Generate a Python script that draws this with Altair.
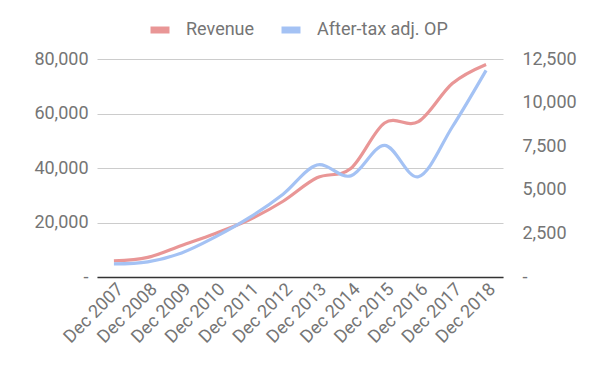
import altair as alt
import pandas as pd

years = ["Dec 2007", "Dec 2008", "Dec 2009", "Dec 2010", "Dec 2011", "Dec 2012",
         "Dec 2013", "Dec 2014", "Dec 2015", "Dec 2016", "Dec 2017", "Dec 2018"]
revenue = [5900, 7200, 11600, 16000, 21000, 27800, 36400, 39800, 56500, 57000, 71000, 78000]
after_tax_op = [750, 870, 1380, 2300, 3400, 4750, 6420, 5800, 7550, 5750, 8600, 11850]
series = ["Revenue", "After-tax adj. OP"]
colors = ["#E99696", "#A4C2F4"]

left_ticks = [0, 20000, 40000, 60000, 80000]
right_ticks = [0, 2500, 5000, 7500, 10000, 12500]

df = pd.DataFrame({"year": years, "revenue": revenue, "op": after_tax_op})

TEXT = "#757575"
FS = 18

x = alt.X("year:N", sort=years, scale=alt.Scale(type="point", padding=0.5),
          axis=alt.Axis(title=None, labelAngle=315, labelFontSize=FS, labelColor=TEXT,
                        domainColor="#333333", domainWidth=1.5, ticks=False, grid=False,
                        labelPadding=3))

color_scale = alt.Scale(domain=series, range=colors)
legend = alt.Legend(title=None, orient="none", legendX=50, legendY=-42, direction="horizontal",
                    symbolType="stroke", symbolStrokeWidth=7, symbolSize=361,
                    labelFontSize=FS, labelColor=TEXT, columnPadding=12, labelOffset=13)

label_expr = "datum.value == 0 ? '-' : format(datum.value, ',')"

base = alt.Chart(df)

rev = base.transform_calculate(series="'Revenue'").mark_line(
    interpolate="cardinal", strokeWidth=3.2).encode(
    x=x,
    y=alt.Y("revenue:Q", scale=alt.Scale(domain=[0, 80000], nice=False),
            axis=alt.Axis(title=None, values=left_ticks, labelExpr=label_expr,
                          labelFontSize=FS, labelColor=TEXT, ticks=False, domain=False,
                          grid=True, gridColor="#cccccc", labelPadding=9)),
    color=alt.Color("series:N", scale=color_scale, legend=legend),
)

opl = base.transform_calculate(series="'After-tax adj. OP'").mark_line(
    interpolate="cardinal", strokeWidth=3.2).encode(
    x=x,
    y=alt.Y("op:Q", scale=alt.Scale(domain=[0, 12500], nice=False),
            axis=alt.Axis(title=None, orient="right", values=right_ticks, labelExpr=label_expr,
                          labelFontSize=FS, labelColor=TEXT, ticks=False, domain=False,
                          grid=False, labelPadding=19)),
    color=alt.Color("series:N", scale=color_scale, legend=legend),
)

chart = alt.layer(rev, opl).resolve_scale(y="independent").properties(
    width=406, height=218,
    padding={"left": 89, "top": 51, "right": 89, "bottom": 85},
    autosize=alt.AutoSizeParams(type="none"),
).configure(font="Roboto").configure_view(stroke=None)

chart.save("out.html", embed_options={"renderer": "svg", "actions": False})
